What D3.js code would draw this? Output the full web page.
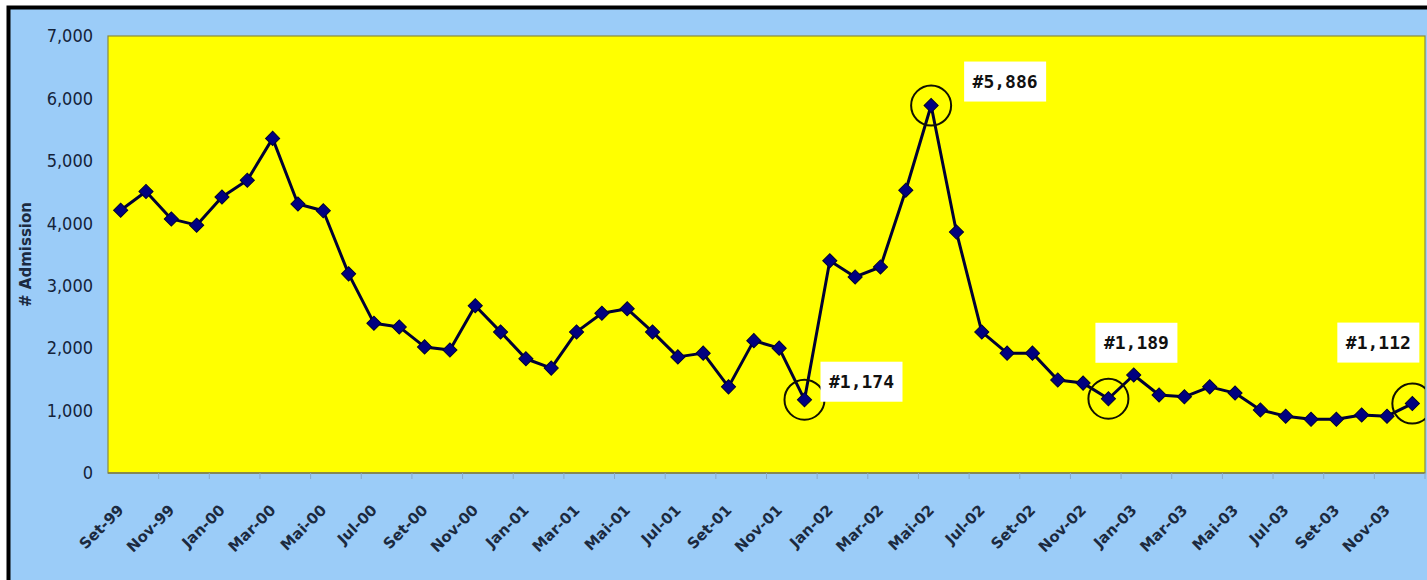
<!DOCTYPE html>
<html>
<head>
<meta charset="utf-8">
<script src="https://cdn.jsdelivr.net/npm/d3@7"></script>
<style>
  html, body { margin: 0; padding: 0; background: #fff; }
  svg { display: block; }
</style>
</head>
<body>
<svg id="chart" width="1427" height="580"></svg>
<script>
// Monthly admissions, Set-99 .. Dez-03
const months = [
  "Set-99","Out-99","Nov-99","Dez-99",
  "Jan-00","Fev-00","Mar-00","Abr-00","Mai-00","Jun-00","Jul-00","Ago-00","Set-00","Out-00","Nov-00","Dez-00",
  "Jan-01","Fev-01","Mar-01","Abr-01","Mai-01","Jun-01","Jul-01","Ago-01","Set-01","Out-01","Nov-01","Dez-01",
  "Jan-02","Fev-02","Mar-02","Abr-02","Mai-02","Jun-02","Jul-02","Ago-02","Set-02","Out-02","Nov-02","Dez-02",
  "Jan-03","Fev-03","Mar-03","Abr-03","Mai-03","Jun-03","Jul-03","Ago-03","Set-03","Out-03","Nov-03","Dez-03"
];

const admissions = [
  4210, 4510, 4070, 3970,
  4420, 4690, 5360, 4310, 4200, 3190, 2400, 2340, 2020, 1970, 2680, 2260,
  1830, 1680, 2260, 2560, 2630, 2260, 1860, 1920, 1380, 2120, 2000, 1174,
  3400, 3140, 3300, 4530, 5886, 3860, 2260, 1920, 1920, 1490, 1440, 1189,
  1570, 1250, 1220, 1380, 1280, 1010, 910, 860, 860, 930, 910, 1112
];

// Month labels shown under the axis (every second month)
const monthLabels = months.filter((m, i) => i % 2 === 0);

const yTicks = [0, 1000, 2000, 3000, 4000, 5000, 6000, 7000];

// Highlighted points with their call-out text
const calloutMonths = ["Dez-01", "Mai-02", "Dez-02", "Dez-03"];
const calloutTexts  = ["#1,174", "#5,886", "#1,189", "#1,112"];
// offset of each call-out box centre from its point
const calloutOffsets = [[57, -18], [74, -24], [28, -56], [-34, -61]];

const svg = d3.select("#chart");
const W = 1427, H = 580;
const plot = { left: 108, right: 1425, top: 36, bottom: 473 };

// outer frame
svg.append("rect")
  .attr("x", 8.5).attr("y", 7.5)
  .attr("width", W + 20).attr("height", H + 20)
  .attr("fill", "#9BCCF8")
  .attr("stroke", "#000").attr("stroke-width", 4);

// plot area
svg.append("rect")
  .attr("x", plot.left).attr("y", plot.top)
  .attr("width", plot.right - plot.left).attr("height", plot.bottom - plot.top)
  .attr("fill", "#FFFF00")
  .attr("stroke", "#8C8C3C").attr("stroke-width", 1.2);

const x = d3.scalePoint().domain(months).range([plot.left, plot.right]).padding(0.5);
const y = d3.scaleLinear().domain([0, 7000]).range([plot.bottom, plot.top]);

// y axis labels
const yAxis = d3.axisLeft(y).tickValues(yTicks).tickSize(0).tickPadding(15)
  .tickFormat(d3.format(","));
svg.append("g")
  .attr("transform", `translate(${plot.left},0)`)
  .call(yAxis)
  .call(g => g.select(".domain").remove())
  .call(g => g.selectAll("text")
    .attr("font-family", "'DejaVu Sans Condensed', 'Liberation Sans', sans-serif")
    .attr("font-stretch", "condensed")
    .attr("font-size", 18)
    .attr("fill", "#14233a"));

// x axis: faint ticks between every second month, rotated labels
const step = x.step();
const xg = svg.append("g");
xg.append("line")
  .attr("x1", plot.left).attr("x2", plot.right)
  .attr("y1", plot.bottom).attr("y2", plot.bottom)
  .attr("stroke", "#7d7d50").attr("stroke-width", 1.5);
xg.selectAll("line.tick")
  .data(months.filter((m, i) => i % 2 === 1))
  .join("line")
  .attr("class", "tick")
  .attr("x1", d => x(d) + step / 2).attr("x2", d => x(d) + step / 2)
  .attr("y1", plot.bottom).attr("y2", plot.bottom + 6)
  .attr("stroke", "#8aa8c8").attr("stroke-width", 1);
xg.selectAll("text")
  .data(monthLabels)
  .join("text")
  .attr("transform", d => `translate(${x(d) + 4},${plot.bottom + 38}) rotate(-45)`)
  .attr("text-anchor", "end")
  .attr("font-family", "'DejaVu Sans', sans-serif")
  .attr("font-weight", "bold")
  .attr("font-size", 15)
  .attr("fill", "#1b2a40")
  .text(d => d);

// y axis title
svg.append("text")
  .attr("transform", `translate(31,${(plot.top + plot.bottom) / 2}) rotate(-90)`)
  .attr("text-anchor", "middle")
  .attr("font-family", "'DejaVu Sans', sans-serif")
  .attr("font-weight", "bold")
  .attr("font-size", 15)
  .attr("fill", "#1b2a40")
  .text("# Admission");

const data = months.map((m, i) => ({ month: m, value: admissions[i] }));

svg.append("clipPath").attr("id", "plotclip")
  .append("rect").attr("x", 0).attr("y", 0).attr("width", W - 2).attr("height", H);

const layer = svg.append("g").attr("clip-path", "url(#plotclip)");

// series line
layer.append("path")
  .datum(data)
  .attr("fill", "none")
  .attr("stroke", "#000033")
  .attr("stroke-width", 3)
  .attr("stroke-linejoin", "round")
  .attr("d", d3.line().x(d => x(d.month)).y(d => y(d.value)));

// diamond markers
const diamond = d3.symbol().type(d3.symbolSquare).size(100);
layer.selectAll("path.marker")
  .data(data)
  .join("path")
  .attr("class", "marker")
  .attr("transform", d => `translate(${x(d.month)},${y(d.value)}) rotate(45)`)
  .attr("d", diamond)
  .attr("fill", "#000080")
  .attr("stroke", "#000033")
  .attr("stroke-width", 1);

// call-outs: circle round the point plus a white label box
calloutMonths.forEach((m, i) => {
  const v = admissions[months.indexOf(m)];
  const px = x(m), py = y(v);
  layer.append("circle")
    .attr("cx", px).attr("cy", py).attr("r", 20)
    .attr("fill", "none")
    .attr("stroke", "#111100").attr("stroke-width", 2);
  const cx = px + calloutOffsets[i][0], cy = py + calloutOffsets[i][1];
  layer.append("rect")
    .attr("x", cx - 41).attr("y", cy - 20)
    .attr("width", 82).attr("height", 40)
    .attr("fill", "#ffffff");
  layer.append("text")
    .attr("x", cx).attr("y", cy)
    .attr("dy", "0.36em")
    .attr("text-anchor", "middle")
    .attr("font-family", "'DejaVu Sans Mono', monospace")
    .attr("font-weight", "bold")
    .attr("font-size", 18)
    .attr("fill", "#111")
    .text(calloutTexts[i]);
});
</script>
</body>
</html>
